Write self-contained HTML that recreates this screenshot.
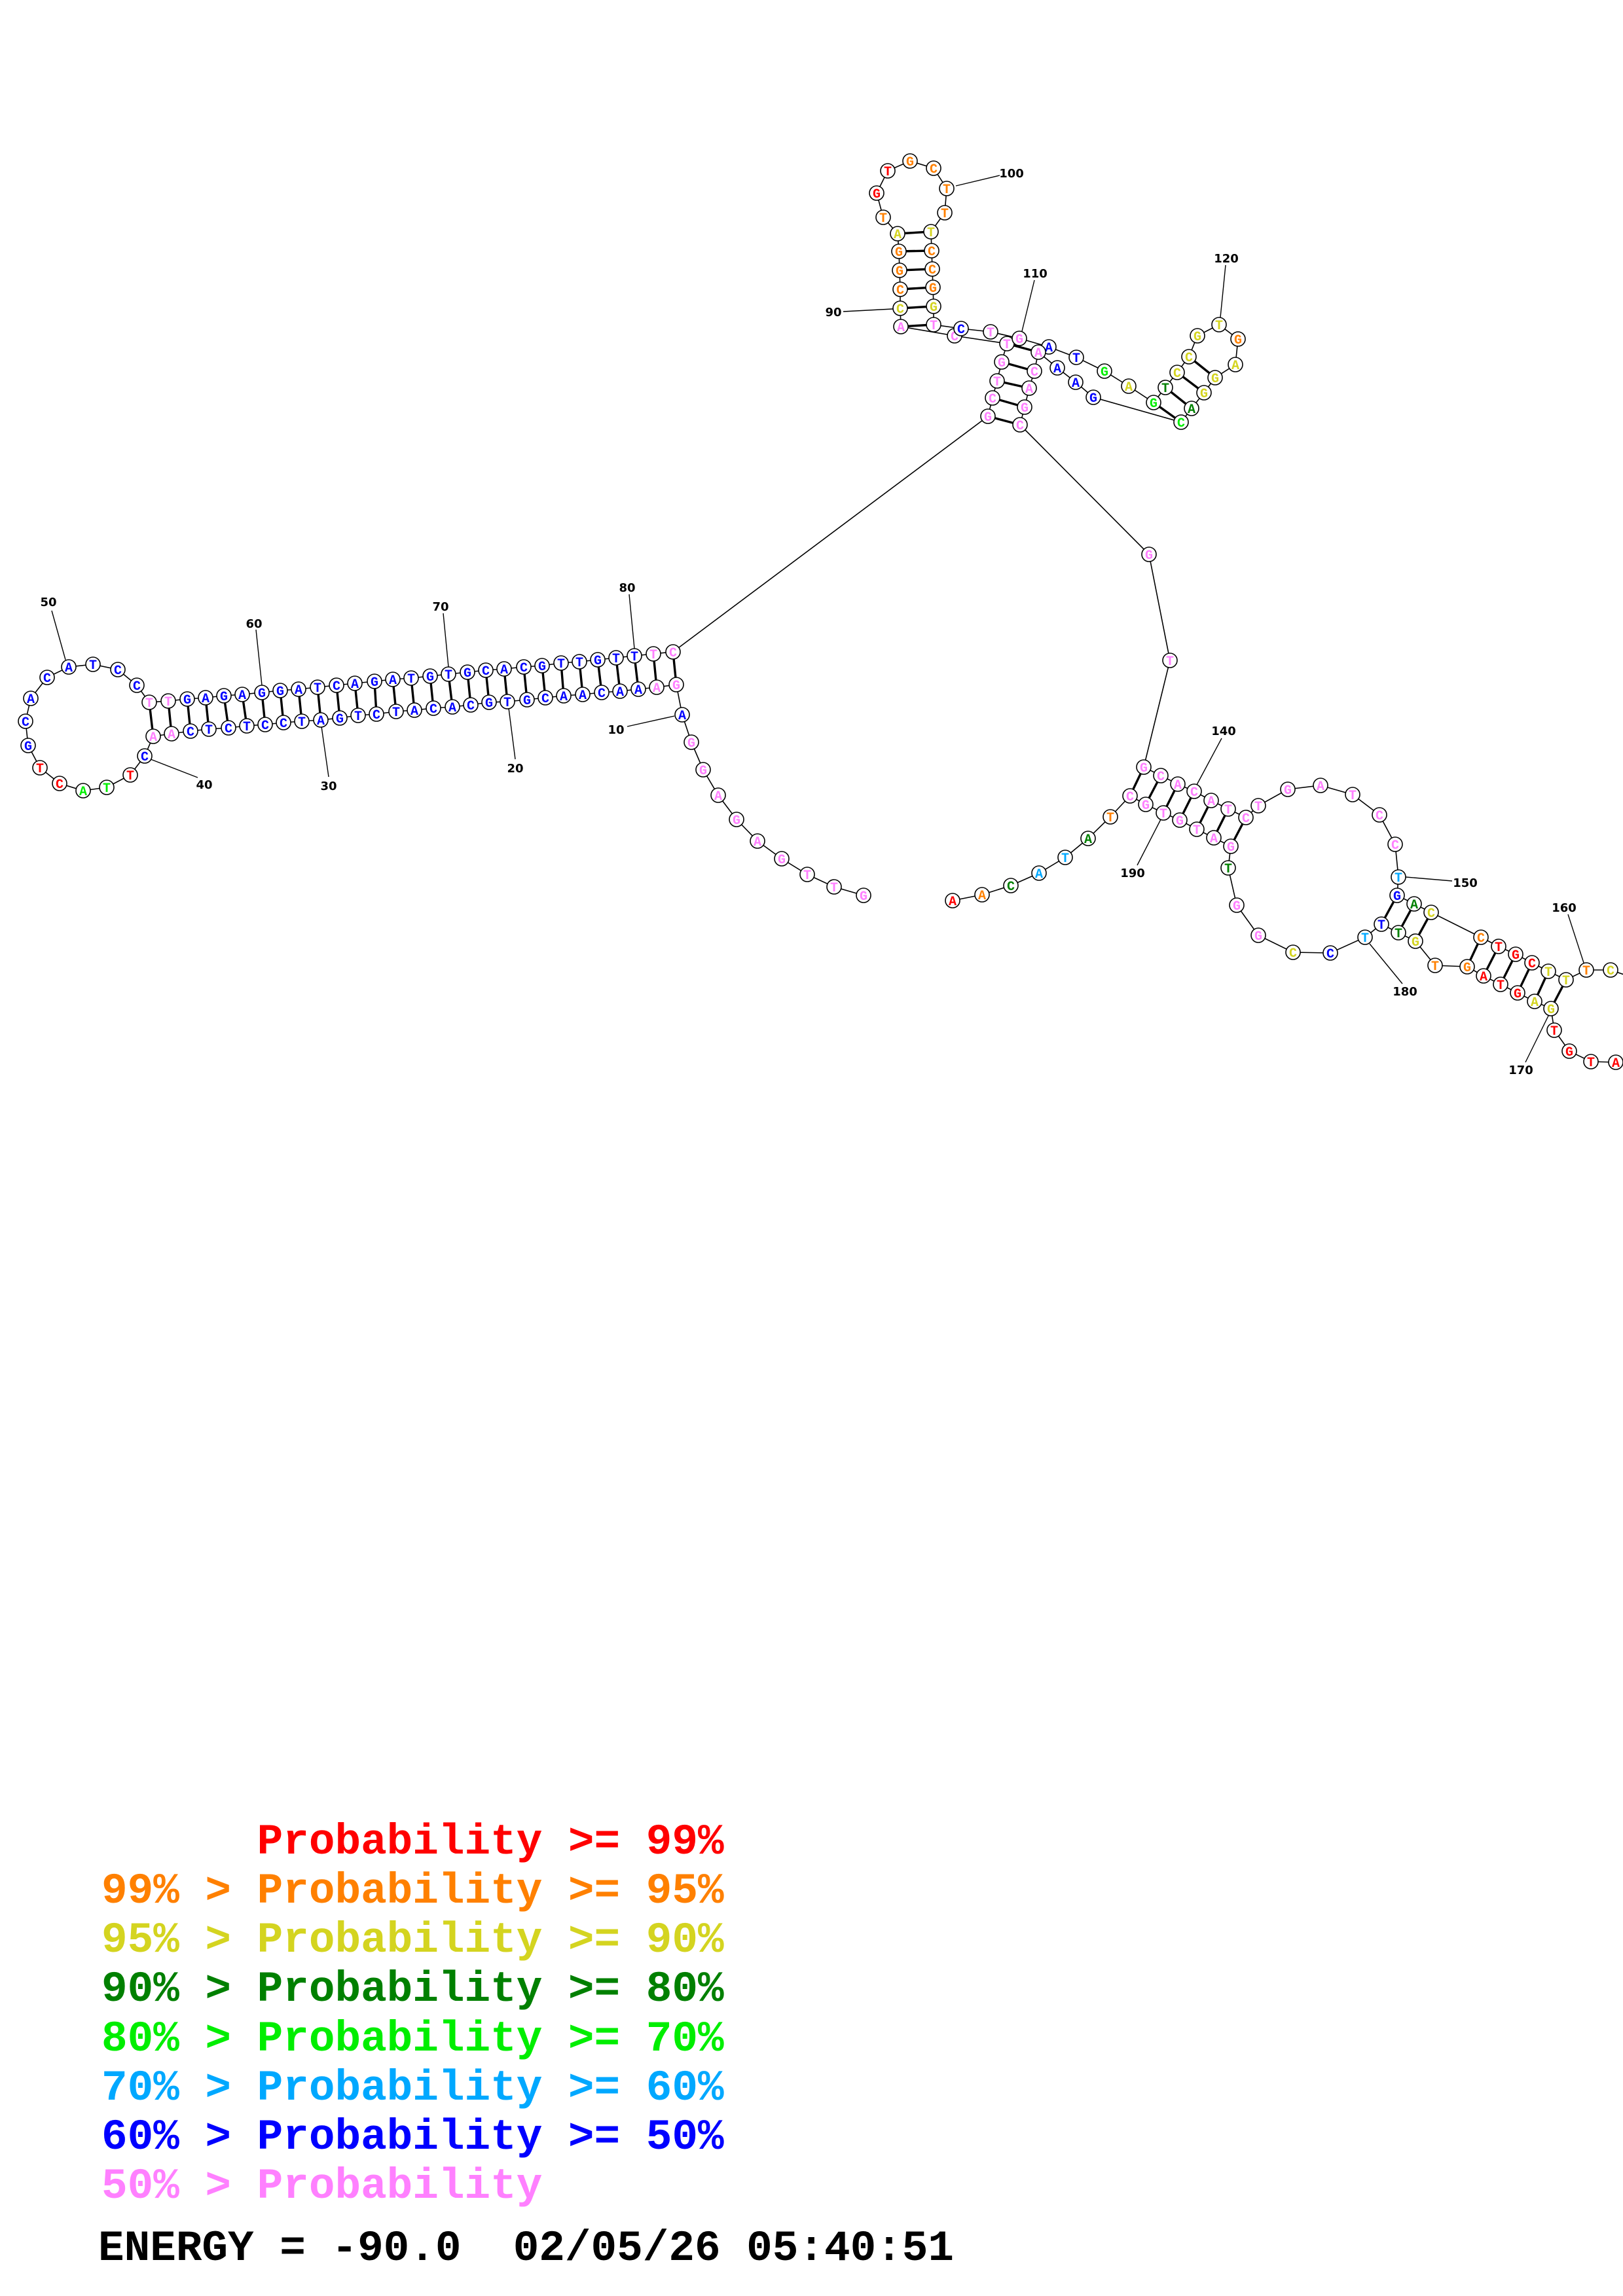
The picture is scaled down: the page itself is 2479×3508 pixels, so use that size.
<!DOCTYPE html>
<html><head><meta charset="utf-8"><style>
html,body{margin:0;padding:0;background:#fff}
svg{display:block}
.bb{fill:none;stroke:#000;stroke-width:1.6}
.pr{stroke:#000;stroke-width:3.4}
.ln{stroke:#000;stroke-width:1.4}
circle{fill:#fff;stroke:#000;stroke-width:1.6}
text.n{font-family:"Liberation Mono",monospace;font-weight:bold;font-size:20px;text-anchor:middle}
text.lb{font-family:"DejaVu Sans","Liberation Sans",sans-serif;font-weight:bold;font-size:18px;text-anchor:middle;fill:#000}
.r{fill:#ff0000}.o{fill:#ff8000}.y{fill:#d4d420}.d{fill:#008000}.g{fill:#00ee00}.l{fill:#00a8ff}.b{fill:#0000ff}.p{fill:#ff80ff}
.leg{font-family:"Liberation Mono",monospace;font-weight:bold;font-size:66px;white-space:pre}
</style></head><body>
<svg width="2479" height="3508" viewBox="0 0 2479 3508" xmlns="http://www.w3.org/2000/svg">
<!-- backbone -->
<polyline class="bb" points="1319,1368 1274,1355 1233,1336 1194,1312 1157,1285 1125,1252 1097,1215 1074,1176 1056,1134 1042,1092 1033,1046 1003,1050 975,1053 947,1056 919,1058 890,1061 861,1063 833,1066 805,1069 775,1072 747,1073 719,1077 691,1080 662,1082 633,1085 605,1087 575,1091 547,1093 519,1097 490,1100 461,1102 433,1104 405,1107 377,1109 349,1112 319,1114 291,1117 262,1121 234,1125 221,1155 199,1184 163,1203 127,1208 91,1197 61,1173 43,1139 39,1102 47,1067 72,1035 105,1019 142,1015 180,1023 209,1047 228,1073 257,1071 286,1068 314,1066 342,1063 370,1061 400,1058 428,1055 456,1053 485,1050 514,1047 542,1044 572,1041 600,1038 628,1036 657,1033 685,1030 714,1027 742,1024 770,1022 800,1019 828,1017 857,1013 885,1011 913,1008 941,1005 969,1002 998,999 1028,996 1509,636 1516,608 1523,582 1530,553 1538,525 1458,513 1376,499 1375,471 1375,442 1374,413 1373,384 1371,357 1349,332 1339,295 1356,261 1390,246 1426,257 1446,288 1443,325 1422,354 1423,383 1424,411 1425,439 1426,468 1426,496 1468,502 1513,507 1557,517 1602,530 1644,546 1687,567 1724,590 1762,615 1780,592 1798,569 1816,545 1829,513 1862,496 1891,518 1887,557 1856,577 1839,600 1820,624 1804,645 1670,607 1643,584 1615,562 1586,538 1580,567 1572,593 1565,622 1558,649 1755,847 1787,1009 1747,1172 1773,1185 1799,1198 1824,1209 1850,1223 1876,1236 1903,1249 1922,1231 1967,1206 2017,1200 2066,1214 2107,1245 2131,1290 2136,1340 2134,1368 2160,1381 2186,1394 2262,1432 2289,1446 2315,1458 2340,1471 2365,1484 2392,1497 2423,1482 2460,1482 2495,1494"/>
<polyline class="bb" points="2495,1623 2468,1623 2430,1622 2397,1606 2374,1574 2369,1541 2344,1530 2318,1517 2292,1504 2266,1491 2241,1477 2192,1475 2162,1438 2136,1425 2110,1412 2085,1432 2032,1456 1975,1455 1922,1429 1889,1383 1876,1326 1880,1293 1854,1280 1828,1267 1802,1253 1777,1242 1750,1229 1726,1216 1696,1248 1662,1281 1627,1310 1587,1334 1544,1353 1500,1367 1455,1376"/>
<!-- pairs -->
<g class="pr">
<line x1="228" y1="1073" x2="234" y2="1125"/><line x1="257" y1="1071" x2="262" y2="1121"/><line x1="286" y1="1068" x2="291" y2="1117"/><line x1="314" y1="1066" x2="319" y2="1114"/><line x1="342" y1="1063" x2="349" y2="1112"/><line x1="370" y1="1061" x2="377" y2="1109"/><line x1="400" y1="1058" x2="405" y2="1107"/><line x1="428" y1="1055" x2="433" y2="1104"/><line x1="456" y1="1053" x2="461" y2="1102"/><line x1="485" y1="1050" x2="490" y2="1100"/><line x1="514" y1="1047" x2="519" y2="1097"/><line x1="542" y1="1044" x2="547" y2="1093"/><line x1="572" y1="1041" x2="575" y2="1091"/><line x1="600" y1="1038" x2="605" y2="1087"/><line x1="628" y1="1036" x2="633" y2="1085"/><line x1="657" y1="1033" x2="662" y2="1082"/><line x1="685" y1="1030" x2="691" y2="1080"/><line x1="714" y1="1027" x2="719" y2="1077"/><line x1="742" y1="1024" x2="747" y2="1073"/><line x1="770" y1="1022" x2="775" y2="1072"/><line x1="800" y1="1019" x2="805" y2="1069"/><line x1="828" y1="1017" x2="833" y2="1066"/><line x1="857" y1="1013" x2="861" y2="1063"/><line x1="885" y1="1011" x2="890" y2="1061"/><line x1="913" y1="1008" x2="919" y2="1058"/><line x1="941" y1="1005" x2="947" y2="1056"/><line x1="969" y1="1002" x2="975" y2="1053"/><line x1="998" y1="999" x2="1003" y2="1050"/><line x1="1028" y1="996" x2="1033" y2="1046"/>
<line x1="1376" y1="499" x2="1426" y2="496"/><line x1="1375" y1="471" x2="1426" y2="468"/><line x1="1375" y1="442" x2="1425" y2="439"/><line x1="1374" y1="413" x2="1424" y2="411"/><line x1="1373" y1="384" x2="1423" y2="383"/><line x1="1371" y1="357" x2="1422" y2="354"/>
<line x1="1509" y1="636" x2="1558" y2="649"/><line x1="1516" y1="608" x2="1565" y2="622"/><line x1="1523" y1="582" x2="1572" y2="593"/><line x1="1530" y1="553" x2="1580" y2="567"/><line x1="1538" y1="525" x2="1586" y2="538"/>
<line x1="1762" y1="615" x2="1804" y2="645"/><line x1="1780" y1="592" x2="1820" y2="624"/><line x1="1798" y1="569" x2="1839" y2="600"/><line x1="1816" y1="545" x2="1856" y2="577"/>
<line x1="1747" y1="1172" x2="1726" y2="1216"/><line x1="1773" y1="1185" x2="1750" y2="1229"/><line x1="1799" y1="1198" x2="1777" y2="1242"/><line x1="1824" y1="1209" x2="1802" y2="1253"/><line x1="1850" y1="1223" x2="1828" y2="1267"/><line x1="1876" y1="1236" x2="1854" y2="1280"/><line x1="1903" y1="1249" x2="1880" y2="1293"/>
<line x1="2134" y1="1368" x2="2110" y2="1412"/><line x1="2160" y1="1381" x2="2136" y2="1425"/><line x1="2186" y1="1394" x2="2162" y2="1438"/>
<line x1="2262" y1="1432" x2="2241" y2="1477"/><line x1="2289" y1="1446" x2="2266" y2="1491"/><line x1="2315" y1="1458" x2="2292" y2="1504"/><line x1="2340" y1="1471" x2="2318" y2="1517"/><line x1="2365" y1="1484" x2="2344" y2="1530"/><line x1="2392" y1="1497" x2="2369" y2="1541"/>
</g>
<!-- label lines -->
<g class="ln">
<line x1="958" y1="1110" x2="1030" y2="1094"/><line x1="777" y1="1082" x2="787" y2="1160"/><line x1="491" y1="1110" x2="502" y2="1187"/><line x1="230" y1="1160" x2="302" y2="1188"/><line x1="79" y1="933" x2="100" y2="1008"/><line x1="391" y1="962" x2="400" y2="1047"/><line x1="677" y1="937" x2="685" y2="1019"/><line x1="961" y1="908" x2="969" y2="991"/>
<line x1="1288" y1="476" x2="1364" y2="472"/><line x1="1460" y1="284" x2="1527" y2="268"/><line x1="1580" y1="428" x2="1561" y2="506"/><line x1="1872" y1="405" x2="1864" y2="485"/>
<line x1="1866" y1="1128" x2="1828" y2="1199"/><line x1="2147" y1="1340" x2="2218" y2="1346"/><line x1="2395" y1="1397" x2="2419" y2="1471"/><line x1="2330" y1="1623" x2="2366" y2="1550"/><line x1="2092" y1="1442" x2="2142" y2="1503"/><line x1="1737" y1="1322" x2="1774" y2="1250"/>
</g>
<!-- labels -->
<g>
<text class="lb" x="941" y="1121">10</text><text class="lb" x="787" y="1180">20</text><text class="lb" x="502" y="1207">30</text><text class="lb" x="312" y="1205">40</text><text class="lb" x="74" y="926">50</text><text class="lb" x="388" y="959">60</text><text class="lb" x="673" y="933">70</text><text class="lb" x="958" y="904">80</text>
<text class="lb" x="1273" y="483">90</text><text class="lb" x="1545" y="271">100</text><text class="lb" x="1581" y="424">110</text><text class="lb" x="1873" y="401">120</text><text class="lb" x="1869" y="1123">140</text><text class="lb" x="2238" y="1355">150</text><text class="lb" x="2389" y="1393">160</text><text class="lb" x="2323" y="1641">170</text><text class="lb" x="2146" y="1521">180</text><text class="lb" x="1730" y="1340">190</text>
</g>
<!-- nodes -->
<g>
<circle cx="1319" cy="1368" r="11"/><text class="n p" x="1319" y="1375">G</text>
<circle cx="1274" cy="1355" r="11"/><text class="n p" x="1274" y="1362">T</text>
<circle cx="1233" cy="1336" r="11"/><text class="n p" x="1233" y="1343">T</text>
<circle cx="1194" cy="1312" r="11"/><text class="n p" x="1194" y="1319">G</text>
<circle cx="1157" cy="1285" r="11"/><text class="n p" x="1157" y="1292">A</text>
<circle cx="1125" cy="1252" r="11"/><text class="n p" x="1125" y="1259">G</text>
<circle cx="1097" cy="1215" r="11"/><text class="n p" x="1097" y="1222">A</text>
<circle cx="1074" cy="1176" r="11"/><text class="n p" x="1074" y="1183">G</text>
<circle cx="1056" cy="1134" r="11"/><text class="n p" x="1056" y="1141">G</text>
<circle cx="1042" cy="1092" r="11"/><text class="n b" x="1042" y="1099">A</text>
<circle cx="1033" cy="1046" r="11"/><text class="n p" x="1033" y="1053">G</text>
<circle cx="1003" cy="1050" r="11"/><text class="n p" x="1003" y="1057">A</text>
<circle cx="975" cy="1053" r="11"/><text class="n b" x="975" y="1060">A</text>
<circle cx="947" cy="1056" r="11"/><text class="n b" x="947" y="1063">A</text>
<circle cx="919" cy="1058" r="11"/><text class="n b" x="919" y="1065">C</text>
<circle cx="890" cy="1061" r="11"/><text class="n b" x="890" y="1068">A</text>
<circle cx="861" cy="1063" r="11"/><text class="n b" x="861" y="1070">A</text>
<circle cx="833" cy="1066" r="11"/><text class="n b" x="833" y="1073">C</text>
<circle cx="805" cy="1069" r="11"/><text class="n b" x="805" y="1076">G</text>
<circle cx="775" cy="1072" r="11"/><text class="n b" x="775" y="1079">T</text>
<circle cx="747" cy="1073" r="11"/><text class="n b" x="747" y="1080">G</text>
<circle cx="719" cy="1077" r="11"/><text class="n b" x="719" y="1084">C</text>
<circle cx="691" cy="1080" r="11"/><text class="n b" x="691" y="1087">A</text>
<circle cx="662" cy="1082" r="11"/><text class="n b" x="662" y="1089">C</text>
<circle cx="633" cy="1085" r="11"/><text class="n b" x="633" y="1092">A</text>
<circle cx="605" cy="1087" r="11"/><text class="n b" x="605" y="1094">T</text>
<circle cx="575" cy="1091" r="11"/><text class="n b" x="575" y="1098">C</text>
<circle cx="547" cy="1093" r="11"/><text class="n b" x="547" y="1100">T</text>
<circle cx="519" cy="1097" r="11"/><text class="n b" x="519" y="1104">G</text>
<circle cx="490" cy="1100" r="11"/><text class="n b" x="490" y="1107">A</text>
<circle cx="461" cy="1102" r="11"/><text class="n b" x="461" y="1109">T</text>
<circle cx="433" cy="1104" r="11"/><text class="n b" x="433" y="1111">C</text>
<circle cx="405" cy="1107" r="11"/><text class="n b" x="405" y="1114">C</text>
<circle cx="377" cy="1109" r="11"/><text class="n b" x="377" y="1116">T</text>
<circle cx="349" cy="1112" r="11"/><text class="n b" x="349" y="1119">C</text>
<circle cx="319" cy="1114" r="11"/><text class="n b" x="319" y="1121">T</text>
<circle cx="291" cy="1117" r="11"/><text class="n b" x="291" y="1124">C</text>
<circle cx="262" cy="1121" r="11"/><text class="n p" x="262" y="1128">A</text>
<circle cx="234" cy="1125" r="11"/><text class="n p" x="234" y="1132">A</text>
<circle cx="221" cy="1155" r="11"/><text class="n b" x="221" y="1162">C</text>
<circle cx="199" cy="1184" r="11"/><text class="n r" x="199" y="1191">T</text>
<circle cx="163" cy="1203" r="11"/><text class="n g" x="163" y="1210">T</text>
<circle cx="127" cy="1208" r="11"/><text class="n g" x="127" y="1215">A</text>
<circle cx="91" cy="1197" r="11"/><text class="n r" x="91" y="1204">C</text>
<circle cx="61" cy="1173" r="11"/><text class="n r" x="61" y="1180">T</text>
<circle cx="43" cy="1139" r="11"/><text class="n b" x="43" y="1146">G</text>
<circle cx="39" cy="1102" r="11"/><text class="n b" x="39" y="1109">C</text>
<circle cx="47" cy="1067" r="11"/><text class="n b" x="47" y="1074">A</text>
<circle cx="72" cy="1035" r="11"/><text class="n b" x="72" y="1042">C</text>
<circle cx="105" cy="1019" r="11"/><text class="n b" x="105" y="1026">A</text>
<circle cx="142" cy="1015" r="11"/><text class="n b" x="142" y="1022">T</text>
<circle cx="180" cy="1023" r="11"/><text class="n b" x="180" y="1030">C</text>
<circle cx="209" cy="1047" r="11"/><text class="n b" x="209" y="1054">C</text>
<circle cx="228" cy="1073" r="11"/><text class="n p" x="228" y="1080">T</text>
<circle cx="257" cy="1071" r="11"/><text class="n p" x="257" y="1078">T</text>
<circle cx="286" cy="1068" r="11"/><text class="n b" x="286" y="1075">G</text>
<circle cx="314" cy="1066" r="11"/><text class="n b" x="314" y="1073">A</text>
<circle cx="342" cy="1063" r="11"/><text class="n b" x="342" y="1070">G</text>
<circle cx="370" cy="1061" r="11"/><text class="n b" x="370" y="1068">A</text>
<circle cx="400" cy="1058" r="11"/><text class="n b" x="400" y="1065">G</text>
<circle cx="428" cy="1055" r="11"/><text class="n b" x="428" y="1062">G</text>
<circle cx="456" cy="1053" r="11"/><text class="n b" x="456" y="1060">A</text>
<circle cx="485" cy="1050" r="11"/><text class="n b" x="485" y="1057">T</text>
<circle cx="514" cy="1047" r="11"/><text class="n b" x="514" y="1054">C</text>
<circle cx="542" cy="1044" r="11"/><text class="n b" x="542" y="1051">A</text>
<circle cx="572" cy="1041" r="11"/><text class="n b" x="572" y="1048">G</text>
<circle cx="600" cy="1038" r="11"/><text class="n b" x="600" y="1045">A</text>
<circle cx="628" cy="1036" r="11"/><text class="n b" x="628" y="1043">T</text>
<circle cx="657" cy="1033" r="11"/><text class="n b" x="657" y="1040">G</text>
<circle cx="685" cy="1030" r="11"/><text class="n b" x="685" y="1037">T</text>
<circle cx="714" cy="1027" r="11"/><text class="n b" x="714" y="1034">G</text>
<circle cx="742" cy="1024" r="11"/><text class="n b" x="742" y="1031">C</text>
<circle cx="770" cy="1022" r="11"/><text class="n b" x="770" y="1029">A</text>
<circle cx="800" cy="1019" r="11"/><text class="n b" x="800" y="1026">C</text>
<circle cx="828" cy="1017" r="11"/><text class="n b" x="828" y="1024">G</text>
<circle cx="857" cy="1013" r="11"/><text class="n b" x="857" y="1020">T</text>
<circle cx="885" cy="1011" r="11"/><text class="n b" x="885" y="1018">T</text>
<circle cx="913" cy="1008" r="11"/><text class="n b" x="913" y="1015">G</text>
<circle cx="941" cy="1005" r="11"/><text class="n b" x="941" y="1012">T</text>
<circle cx="969" cy="1002" r="11"/><text class="n b" x="969" y="1009">T</text>
<circle cx="998" cy="999" r="11"/><text class="n p" x="998" y="1006">T</text>
<circle cx="1028" cy="996" r="11"/><text class="n p" x="1028" y="1003">C</text>
<circle cx="1509" cy="636" r="11"/><text class="n p" x="1509" y="643">G</text>
<circle cx="1516" cy="608" r="11"/><text class="n p" x="1516" y="615">C</text>
<circle cx="1523" cy="582" r="11"/><text class="n p" x="1523" y="589">T</text>
<circle cx="1530" cy="553" r="11"/><text class="n p" x="1530" y="560">G</text>
<circle cx="1538" cy="525" r="11"/><text class="n p" x="1538" y="532">T</text>
<circle cx="1458" cy="513" r="11"/><text class="n p" x="1458" y="520">C</text>
<circle cx="1376" cy="499" r="11"/><text class="n p" x="1376" y="506">A</text>
<circle cx="1375" cy="471" r="11"/><text class="n y" x="1375" y="478">C</text>
<circle cx="1375" cy="442" r="11"/><text class="n o" x="1375" y="449">C</text>
<circle cx="1374" cy="413" r="11"/><text class="n o" x="1374" y="420">G</text>
<circle cx="1373" cy="384" r="11"/><text class="n o" x="1373" y="391">G</text>
<circle cx="1371" cy="357" r="11"/><text class="n y" x="1371" y="364">A</text>
<circle cx="1349" cy="332" r="11"/><text class="n o" x="1349" y="339">T</text>
<circle cx="1339" cy="295" r="11"/><text class="n r" x="1339" y="302">G</text>
<circle cx="1356" cy="261" r="11"/><text class="n r" x="1356" y="268">T</text>
<circle cx="1390" cy="246" r="11"/><text class="n o" x="1390" y="253">G</text>
<circle cx="1426" cy="257" r="11"/><text class="n o" x="1426" y="264">C</text>
<circle cx="1446" cy="288" r="11"/><text class="n o" x="1446" y="295">T</text>
<circle cx="1443" cy="325" r="11"/><text class="n o" x="1443" y="332">T</text>
<circle cx="1422" cy="354" r="11"/><text class="n y" x="1422" y="361">T</text>
<circle cx="1423" cy="383" r="11"/><text class="n o" x="1423" y="390">C</text>
<circle cx="1424" cy="411" r="11"/><text class="n o" x="1424" y="418">C</text>
<circle cx="1425" cy="439" r="11"/><text class="n o" x="1425" y="446">G</text>
<circle cx="1426" cy="468" r="11"/><text class="n y" x="1426" y="475">G</text>
<circle cx="1426" cy="496" r="11"/><text class="n p" x="1426" y="503">T</text>
<circle cx="1468" cy="502" r="11"/><text class="n b" x="1468" y="509">C</text>
<circle cx="1513" cy="507" r="11"/><text class="n p" x="1513" y="514">T</text>
<circle cx="1557" cy="517" r="11"/><text class="n p" x="1557" y="524">G</text>
<circle cx="1602" cy="530" r="11"/><text class="n b" x="1602" y="537">A</text>
<circle cx="1644" cy="546" r="11"/><text class="n b" x="1644" y="553">T</text>
<circle cx="1687" cy="567" r="11"/><text class="n g" x="1687" y="574">G</text>
<circle cx="1724" cy="590" r="11"/><text class="n y" x="1724" y="597">A</text>
<circle cx="1762" cy="615" r="11"/><text class="n g" x="1762" y="622">G</text>
<circle cx="1780" cy="592" r="11"/><text class="n d" x="1780" y="599">T</text>
<circle cx="1798" cy="569" r="11"/><text class="n y" x="1798" y="576">C</text>
<circle cx="1816" cy="545" r="11"/><text class="n y" x="1816" y="552">C</text>
<circle cx="1829" cy="513" r="11"/><text class="n y" x="1829" y="520">G</text>
<circle cx="1862" cy="496" r="11"/><text class="n y" x="1862" y="503">T</text>
<circle cx="1891" cy="518" r="11"/><text class="n o" x="1891" y="525">G</text>
<circle cx="1887" cy="557" r="11"/><text class="n y" x="1887" y="564">A</text>
<circle cx="1856" cy="577" r="11"/><text class="n y" x="1856" y="584">G</text>
<circle cx="1839" cy="600" r="11"/><text class="n y" x="1839" y="607">G</text>
<circle cx="1820" cy="624" r="11"/><text class="n d" x="1820" y="631">A</text>
<circle cx="1804" cy="645" r="11"/><text class="n g" x="1804" y="652">C</text>
<circle cx="1670" cy="607" r="11"/><text class="n b" x="1670" y="614">G</text>
<circle cx="1643" cy="584" r="11"/><text class="n b" x="1643" y="591">A</text>
<circle cx="1615" cy="562" r="11"/><text class="n b" x="1615" y="569">A</text>
<circle cx="1586" cy="538" r="11"/><text class="n p" x="1586" y="545">A</text>
<circle cx="1580" cy="567" r="11"/><text class="n p" x="1580" y="574">C</text>
<circle cx="1572" cy="593" r="11"/><text class="n p" x="1572" y="600">A</text>
<circle cx="1565" cy="622" r="11"/><text class="n p" x="1565" y="629">G</text>
<circle cx="1558" cy="649" r="11"/><text class="n p" x="1558" y="656">C</text>
<circle cx="1755" cy="847" r="11"/><text class="n p" x="1755" y="854">G</text>
<circle cx="1787" cy="1009" r="11"/><text class="n p" x="1787" y="1016">T</text>
<circle cx="1747" cy="1172" r="11"/><text class="n p" x="1747" y="1179">G</text>
<circle cx="1773" cy="1185" r="11"/><text class="n p" x="1773" y="1192">C</text>
<circle cx="1799" cy="1198" r="11"/><text class="n p" x="1799" y="1205">A</text>
<circle cx="1824" cy="1209" r="11"/><text class="n p" x="1824" y="1216">C</text>
<circle cx="1850" cy="1223" r="11"/><text class="n p" x="1850" y="1230">A</text>
<circle cx="1876" cy="1236" r="11"/><text class="n p" x="1876" y="1243">T</text>
<circle cx="1903" cy="1249" r="11"/><text class="n p" x="1903" y="1256">C</text>
<circle cx="1922" cy="1231" r="11"/><text class="n p" x="1922" y="1238">T</text>
<circle cx="1967" cy="1206" r="11"/><text class="n p" x="1967" y="1213">G</text>
<circle cx="2017" cy="1200" r="11"/><text class="n p" x="2017" y="1207">A</text>
<circle cx="2066" cy="1214" r="11"/><text class="n p" x="2066" y="1221">T</text>
<circle cx="2107" cy="1245" r="11"/><text class="n p" x="2107" y="1252">C</text>
<circle cx="2131" cy="1290" r="11"/><text class="n p" x="2131" y="1297">C</text>
<circle cx="2136" cy="1340" r="11"/><text class="n l" x="2136" y="1347">T</text>
<circle cx="2134" cy="1368" r="11"/><text class="n b" x="2134" y="1375">G</text>
<circle cx="2160" cy="1381" r="11"/><text class="n d" x="2160" y="1388">A</text>
<circle cx="2186" cy="1394" r="11"/><text class="n y" x="2186" y="1401">C</text>
<circle cx="2262" cy="1432" r="11"/><text class="n o" x="2262" y="1439">C</text>
<circle cx="2289" cy="1446" r="11"/><text class="n r" x="2289" y="1453">T</text>
<circle cx="2315" cy="1458" r="11"/><text class="n r" x="2315" y="1465">G</text>
<circle cx="2340" cy="1471" r="11"/><text class="n r" x="2340" y="1478">C</text>
<circle cx="2365" cy="1484" r="11"/><text class="n y" x="2365" y="1491">T</text>
<circle cx="2392" cy="1497" r="11"/><text class="n y" x="2392" y="1504">T</text>
<circle cx="2423" cy="1482" r="11"/><text class="n o" x="2423" y="1489">T</text>
<circle cx="2460" cy="1482" r="11"/><text class="n y" x="2460" y="1489">C</text>
<circle cx="2468" cy="1623" r="11"/><text class="n r" x="2468" y="1630">A</text>
<circle cx="2430" cy="1622" r="11"/><text class="n r" x="2430" y="1629">T</text>
<circle cx="2397" cy="1606" r="11"/><text class="n r" x="2397" y="1613">G</text>
<circle cx="2374" cy="1574" r="11"/><text class="n r" x="2374" y="1581">T</text>
<circle cx="2369" cy="1541" r="11"/><text class="n y" x="2369" y="1548">G</text>
<circle cx="2344" cy="1530" r="11"/><text class="n y" x="2344" y="1537">A</text>
<circle cx="2318" cy="1517" r="11"/><text class="n r" x="2318" y="1524">G</text>
<circle cx="2292" cy="1504" r="11"/><text class="n r" x="2292" y="1511">T</text>
<circle cx="2266" cy="1491" r="11"/><text class="n r" x="2266" y="1498">A</text>
<circle cx="2241" cy="1477" r="11"/><text class="n o" x="2241" y="1484">G</text>
<circle cx="2192" cy="1475" r="11"/><text class="n o" x="2192" y="1482">T</text>
<circle cx="2162" cy="1438" r="11"/><text class="n y" x="2162" y="1445">G</text>
<circle cx="2136" cy="1425" r="11"/><text class="n d" x="2136" y="1432">T</text>
<circle cx="2110" cy="1412" r="11"/><text class="n b" x="2110" y="1419">T</text>
<circle cx="2085" cy="1432" r="11"/><text class="n l" x="2085" y="1439">T</text>
<circle cx="2032" cy="1456" r="11"/><text class="n b" x="2032" y="1463">C</text>
<circle cx="1975" cy="1455" r="11"/><text class="n y" x="1975" y="1462">C</text>
<circle cx="1922" cy="1429" r="11"/><text class="n p" x="1922" y="1436">G</text>
<circle cx="1889" cy="1383" r="11"/><text class="n p" x="1889" y="1390">G</text>
<circle cx="1876" cy="1326" r="11"/><text class="n d" x="1876" y="1333">T</text>
<circle cx="1880" cy="1293" r="11"/><text class="n p" x="1880" y="1300">G</text>
<circle cx="1854" cy="1280" r="11"/><text class="n p" x="1854" y="1287">A</text>
<circle cx="1828" cy="1267" r="11"/><text class="n p" x="1828" y="1274">T</text>
<circle cx="1802" cy="1253" r="11"/><text class="n p" x="1802" y="1260">G</text>
<circle cx="1777" cy="1242" r="11"/><text class="n p" x="1777" y="1249">T</text>
<circle cx="1750" cy="1229" r="11"/><text class="n p" x="1750" y="1236">G</text>
<circle cx="1726" cy="1216" r="11"/><text class="n p" x="1726" y="1223">C</text>
<circle cx="1696" cy="1248" r="11"/><text class="n o" x="1696" y="1255">T</text>
<circle cx="1662" cy="1281" r="11"/><text class="n d" x="1662" y="1288">A</text>
<circle cx="1627" cy="1310" r="11"/><text class="n l" x="1627" y="1317">T</text>
<circle cx="1587" cy="1334" r="11"/><text class="n l" x="1587" y="1341">A</text>
<circle cx="1544" cy="1353" r="11"/><text class="n d" x="1544" y="1360">C</text>
<circle cx="1500" cy="1367" r="11"/><text class="n o" x="1500" y="1374">A</text>
<circle cx="1455" cy="1376" r="11"/><text class="n r" x="1455" y="1383">A</text>
</g>
<!-- legend -->
<text class="leg r" x="155" y="2832">      Probability &gt;= 99%</text>
<text class="leg o" x="155" y="2907">99% &gt; Probability &gt;= 95%</text>
<text class="leg y" x="155" y="2982">95% &gt; Probability &gt;= 90%</text>
<text class="leg d" x="155" y="3057">90% &gt; Probability &gt;= 80%</text>
<text class="leg g" x="155" y="3133">80% &gt; Probability &gt;= 70%</text>
<text class="leg l" x="155" y="3208">70% &gt; Probability &gt;= 60%</text>
<text class="leg b" x="155" y="3283">60% &gt; Probability &gt;= 50%</text>
<text class="leg p" x="155" y="3358">50% &gt; Probability</text>
<text class="leg" x="150" y="3453" fill="#000">ENERGY = -90.0  02/05/26 05:40:51</text>
</svg>
</body></html>
